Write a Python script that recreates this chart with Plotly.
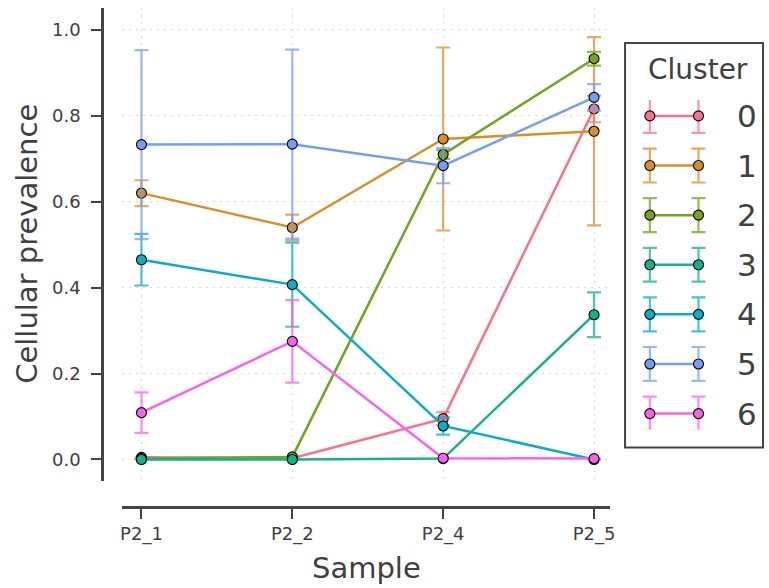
import plotly.graph_objects as go

samples = ["P2_1", "P2_2", "P2_4", "P2_5"]
clusters = ["0", "1", "2", "3", "4", "5", "6"]

prev_c0 = [0.005, 0.003, 0.095, 0.816]
prev_c1 = [0.620, 0.540, 0.746, 0.764]
prev_c2 = [0.002, 0.006, 0.710, 0.933]
prev_c3 = [0.000, 0.000, 0.002, 0.337]
prev_c4 = [0.465, 0.407, 0.078, 0.000]
prev_c5 = [0.733, 0.734, 0.684, 0.843]
prev_c6 = [0.109, 0.275, 0.003, 0.002]

err_c0 = [0.0, 0.0, 0.015, 0.031]
err_c1 = [0.030, 0.030, 0.213, 0.219]
err_c2 = [0.0, 0.0, 0.010, 0.016]
err_c3 = [0.0, 0.0, 0.0, 0.052]
err_c4 = [0.060, 0.098, 0.020, 0.0]
err_c5 = [0.220, 0.220, 0.041, 0.031]
err_c6 = [0.047, 0.096, 0.0, 0.0]

colors = ["#f7738b", "#d59029", "#6fa521", "#17b08b", "#0aadc2", "#779df2", "#fb62ea"]
err_colors = ["rgba(247,115,139,0.75)", "rgba(213,144,41,0.75)", "rgba(111,165,33,0.75)",
              "rgba(23,176,139,0.75)", "rgba(10,173,194,0.75)", "rgba(119,157,242,0.75)",
              "rgba(251,98,234,0.75)"]

prevs = [prev_c0, prev_c1, prev_c2, prev_c3, prev_c4, prev_c5, prev_c6]
errs = [err_c0, err_c1, err_c2, err_c3, err_c4, err_c5, err_c6]

W, H = 769, 588
ML, MR, MT, MB = 102, 0, 8, 80.5
PW = W - ML - MR
PH = H - MT - MB

def px_x(p):
    return (p - ML) / PW

def px_y(p):
    return (H - MB - p) / PH

TEXT = "#404040"
AX = "#444444"
FONT = "DejaVu Sans"

fig = go.Figure()

for i, c in enumerate(clusters):
    fig.add_trace(go.Scatter(
        x=samples, y=prevs[i], mode="lines+markers", name=c,
        line=dict(color=colors[i], width=2.5),
        marker=dict(color=colors[i], size=10, line=dict(color="black", width=1.1)),
        error_y=dict(type="data", array=errs[i], visible=True, color=err_colors[i],
                     thickness=2.2, width=7),
        showlegend=False, xaxis="x", yaxis="y",
    ))

# legend glyphs drawn on a hidden helper axis
for i, c in enumerate(clusters):
    fig.add_trace(go.Scatter(
        x=[0, 1], y=[i, i], mode="lines+markers",
        line=dict(color=colors[i], width=2.5),
        marker=dict(color=colors[i], size=10, line=dict(color="black", width=1.1)),
        error_y=dict(type="data", array=[0.342, 0.342], visible=True, color=err_colors[i],
                     thickness=2.2, width=7),
        showlegend=False, xaxis="x2", yaxis="y2", hoverinfo="skip",
    ))

annotations = []
for i, c in enumerate(clusters):
    annotations.append(dict(text=c, x=px_x(740), y=i, xref="paper", yref="y2",
                            xanchor="left", yanchor="middle", showarrow=False,
                            font=dict(size=31, color=TEXT, family=FONT)))
annotations.append(dict(text="Cluster", x=px_x(703), y=px_y(70), xref="paper", yref="paper",
                        xanchor="center", yanchor="middle", showarrow=False,
                        font=dict(size=28, color=TEXT, family=FONT)))
annotations.append(dict(text="Cellular prevalence", x=px_x(27), y=px_y(244.5),
                        xref="paper", yref="paper", textangle=-90,
                        xanchor="center", yanchor="middle", showarrow=False,
                        font=dict(size=29, color=TEXT, family=FONT)))
annotations.append(dict(text="Sample", x=px_x(368), y=px_y(569),
                        xref="paper", yref="paper",
                        xanchor="center", yanchor="middle", showarrow=False,
                        font=dict(size=29, color=TEXT, family=FONT)))

shapes = [dict(type="rect", xref="paper", yref="paper",
               x0=px_x(629), x1=px_x(768), y0=px_y(448), y1=px_y(43),
               line=dict(color=AX, width=2), fillcolor="rgba(0,0,0,0)", layer="below")]

fig.update_layout(
    width=W, height=H,
    margin=dict(l=ML, r=MR, t=MT, b=MB, pad=0),
    paper_bgcolor="white", plot_bgcolor="white",
    font=dict(family=FONT, color=TEXT),
    xaxis=dict(domain=[px_x(122), px_x(614)], type="category", range=[-0.13, 3.107],
               anchor="free", position=0, showline=True, linecolor=AX, linewidth=2.5,
               ticks="outside", ticklen=10, tickwidth=1.5, tickcolor=AX,
               showgrid=True, gridcolor="#d9d9d9", griddash="2px,5px", gridwidth=1,
               zeroline=False, tickfont=dict(size=18, color=TEXT, family=FONT)),
    yaxis=dict(domain=[px_y(481), 1], range=[-0.049, 1.051],
               anchor="free", position=0, showline=True, linecolor=AX, linewidth=2.5,
               ticks="outside", ticklen=10, tickwidth=1.5, tickcolor=AX,
               ticklabelstandoff=7,
               tickvals=[0, 0.2, 0.4, 0.6, 0.8, 1.0], tickformat=".1f",
               showgrid=True, gridcolor="#d9d9d9", griddash="2px,5px", gridwidth=1,
               zeroline=False, tickfont=dict(size=18, color=TEXT, family=FONT)),
    xaxis2=dict(domain=[px_x(640), px_x(717)], range=[-0.2857, 1.2857], anchor="y2",
                visible=False, fixedrange=True),
    yaxis2=dict(domain=[px_y(430), px_y(100)], range=[6.322, -0.322], anchor="x2",
                visible=False, fixedrange=True),
    annotations=annotations,
    shapes=shapes,
)

fig.write_html("out.html", config={"displayModeBar": False},
               post_script="document.body.style.margin='0px';document.body.style.overflow='hidden';")
